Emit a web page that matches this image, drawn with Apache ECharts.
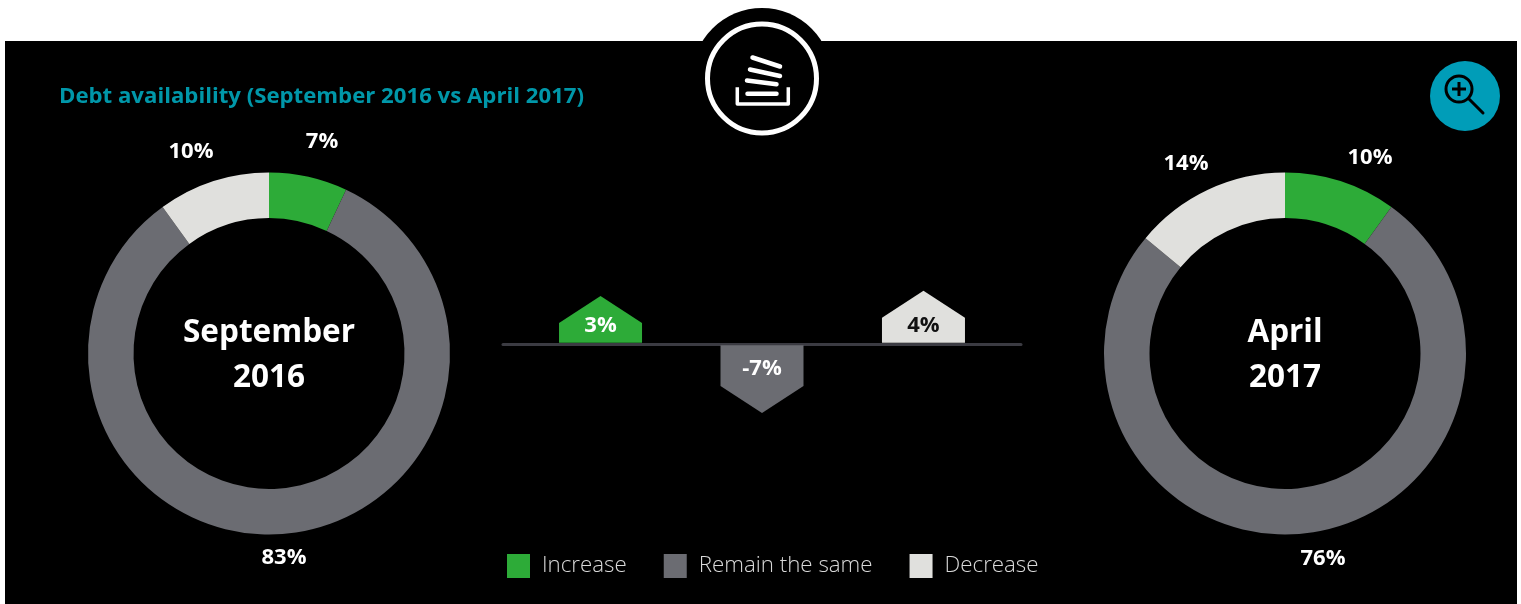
<!DOCTYPE html>
<html><head><meta charset="utf-8">
<style>html,body{margin:0;padding:0;background:#fff}#c{width:1521px;height:604px}</style>
<script src="https://cdn.jsdelivr.net/npm/echarts@6/dist/echarts.min.js"></script>
</head><body><div id="c"></div>
<script>
const categories = ['Increase', 'Remain the same', 'Decrease'];
const sep2016 = [7, 83, 10];
const apr2017 = [10, 76, 14];
const change = [3, -7, 4];
const chartTitle = 'Debt availability (September 2016 vs April 2017)';
const colors = ['#2dab38', '#6b6c72', '#e0e0dd'];
const changeText = ['#ffffff', '#ffffff', '#111111'];
const font = '"Open Sans"';

const pieLabelPos = {
  sep: [[322, 142], [284, 558], [191, 152]],
  apr: [[1370, 158], [1323, 559], [1186, 164]]
};

function pie(id, center, values, pos) {
  return {
    type: 'pie', id, name: id, center, radius: [135.5, 181], startAngle: 90, clockwise: true,
    animation: false, silent: true,
    data: categories.map((n, i) => ({ name: n, value: values[i], itemStyle: { color: colors[i] } })),
    label: { show: true, position: 'outside', formatter: '{c}%', color: '#fff', fontFamily: font, fontWeight: 700, fontSize: 22 },
    labelLine: { show: false },
    labelLayout: p => ({ x: pos[p.dataIndex][0], y: pos[p.dataIndex][1], align: 'center', verticalAlign: 'middle' }),
    emphasis: { disabled: true }
  };
}

function house(params, api) {
  const i = api.value(0), v = api.value(1);
  const c = api.coord([i, 0]);
  const s = api.size([1, Math.abs(v)]);
  const half = 41.5, cap = 27, dir = v >= 0 ? -1 : 1;
  const base = c[1] + (v >= 0 ? -1 : 1.5);
  const body = s[1] + 4;
  const shoulder = base + dir * body;
  const tip = shoulder + dir * cap;
  return {
    type: 'group',
    children: [
      { type: 'polygon', shape: { points: [[c[0] - half, base], [c[0] + half, base], [c[0] + half, shoulder], [c[0], tip], [c[0] - half, shoulder]] },
        style: { fill: colors[params.dataIndex === 0 ? 0 : params.dataIndex === 1 ? 1 : 2] } },
      { type: 'text', x: c[0], y: v >= 0 ? base - 17 : base + 23,
        style: { text: v + '%', fill: changeText[params.dataIndex], font: '700 22px ' + font, textAlign: 'center', textVerticalAlign: 'middle' } }
    ]
  };
}

const ink = { stroke: '#fff', lineWidth: 4.5, lineCap: 'round', fill: null };
const bars = [[747.5, 93.7, 776.5, 93.7], [747, 80.5, 776.5, 84.3], [750, 69.5, 780, 76], [752.5, 57.5, 780, 66.5]];
const graphic = [
  { type: 'rect', shape: { x: 5, y: 41, width: 1512, height: 563 }, style: { fill: '#000' } },
  { type: 'circle', shape: { cx: 762, cy: 78, r: 70 }, style: { fill: '#000' } },
  { type: 'circle', shape: { cx: 762, cy: 78.5, r: 54.5 }, style: { fill: '#000', stroke: '#fff', lineWidth: 5 } },
  { type: 'polyline', shape: { points: [[737.3, 87.3], [737.3, 104], [788.3, 104], [788.3, 87.3]] }, style: { stroke: '#fff', lineWidth: 3.5, fill: null, lineJoin: 'round' } },
  ...bars.map(b => ({ type: 'line', shape: { x1: b[0], y1: b[1], x2: b[2], y2: b[3] }, style: ink })),
  { type: 'text', x: 59, y: 97, style: { text: chartTitle, fill: '#0097a9', font: '700 22.2px ' + font, textVerticalAlign: 'middle' } },
  { type: 'circle', shape: { cx: 1465, cy: 96, r: 35 }, style: { fill: '#009db8' } },
  { type: 'circle', shape: { cx: 1459, cy: 89, r: 13 }, style: { fill: null, stroke: '#000', lineWidth: 3 } },
  { type: 'line', shape: { x1: 1469, y1: 99, x2: 1483, y2: 113 }, style: { stroke: '#000', lineWidth: 3, lineCap: 'round' } },
  { type: 'line', shape: { x1: 1452, y1: 89, x2: 1466, y2: 89 }, style: { stroke: '#000', lineWidth: 3 } },
  { type: 'line', shape: { x1: 1459, y1: 82, x2: 1459, y2: 96 }, style: { stroke: '#000', lineWidth: 3 } },
  { type: 'text', x: 269, y: 356, style: { text: 'September\n2016', fill: '#fff', font: '700 31.5px ' + font, lineHeight: 45, textAlign: 'center', textVerticalAlign: 'middle' } },
  { type: 'text', x: 1285, y: 356, style: { text: 'April\n2017', fill: '#fff', font: '700 31.5px ' + font, lineHeight: 45, textAlign: 'center', textVerticalAlign: 'middle' } }
];

const chart = echarts.init(document.getElementById('c'), null, { renderer: 'canvas' });
chart.setOption({
  backgroundColor: '#fff',
  animation: false,
  graphic,
  legend: {
    left: 502, top: 549, orient: 'horizontal', selectedMode: false, icon: 'rect',
    itemWidth: 23, itemHeight: 24, itemGap: 37,
    data: categories,
    textStyle: { color: '#d8d8d8', fontFamily: font, fontWeight: 300, fontSize: 22.3, padding: [0, 0, 0, 7] }
  },
  grid: { left: 503, width: 518, top: 270.3, height: 147 },
  xAxis: { type: 'value', min: -0.604, max: 2.604, show: true, splitLine: { show: false },
    axisLabel: { show: false }, axisTick: { show: false },
    axisLine: { show: true, onZero: true, lineStyle: { color: '#3b3b42', width: 3 } } },
  yAxis: { type: 'value', min: -14, max: 14, show: false, splitLine: { show: false } },
  series: [
    pie('sep', [269, 353.5], sep2016, pieLabelPos.sep),
    pie('apr', [1285, 353.5], apr2017, pieLabelPos.apr),
    { type: 'custom', renderItem: house, coordinateSystem: 'cartesian2d', z: 3, silent: true,
      data: change.map((v, i) => [i, v]), clip: false, encode: { x: 0, y: 1 } }
  ]
});
</script></body></html>
